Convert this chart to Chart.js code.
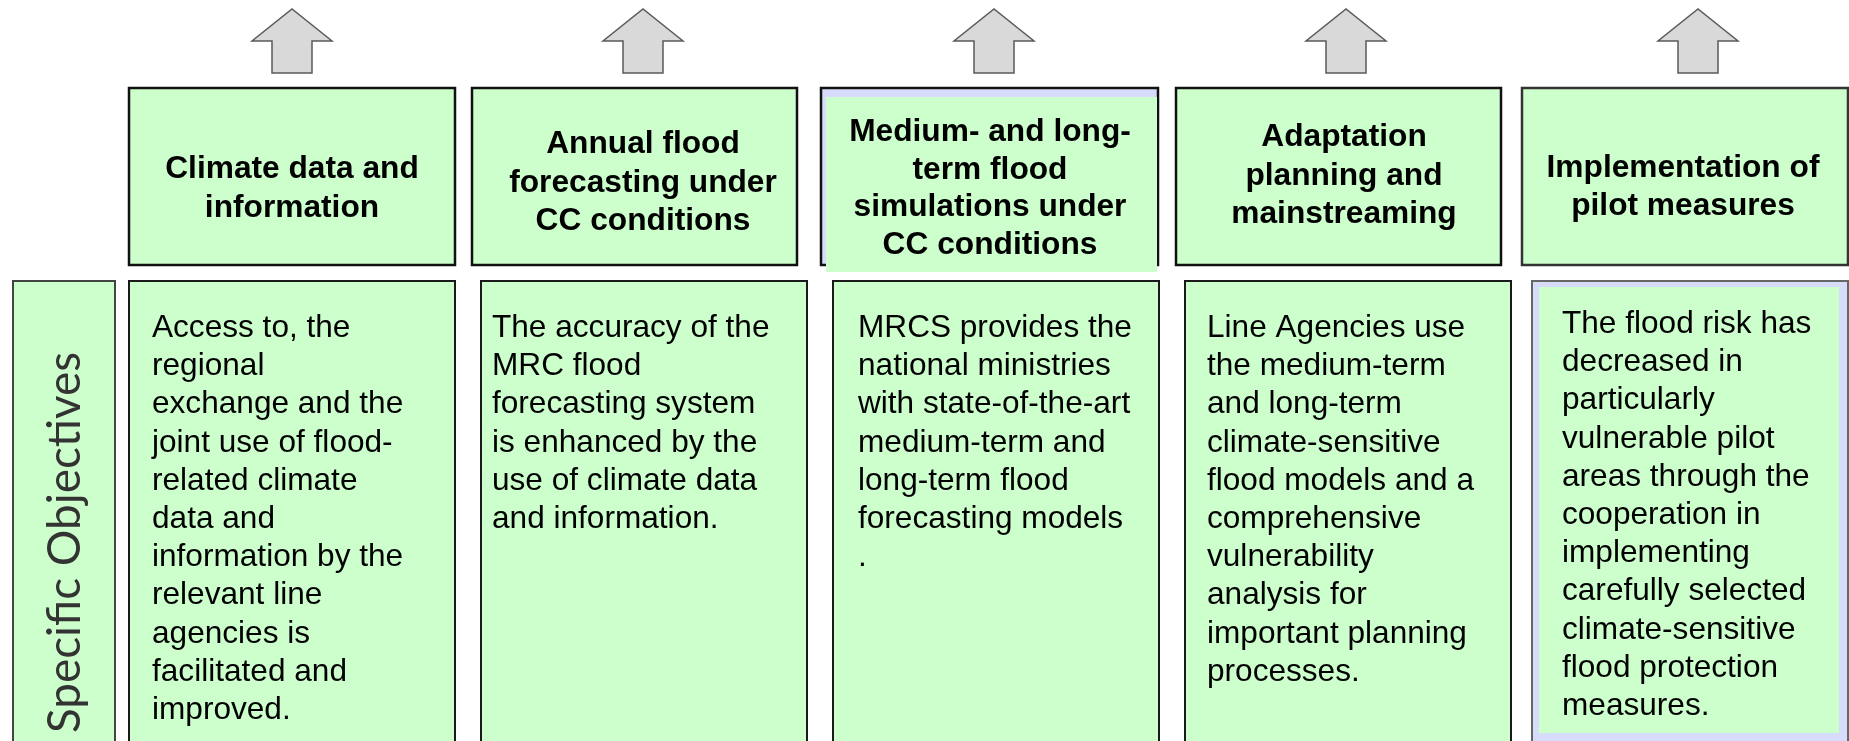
<!DOCTYPE html>
<html><head><meta charset="utf-8">
<script src="https://cdn.jsdelivr.net/npm/chart.js@4.4.0/dist/chart.umd.min.js"></script>
<style>html,body{margin:0;padding:0;background:#fff;overflow:hidden}canvas{display:block}</style>
</head><body>
<canvas id="c" width="1849" height="741"></canvas>
<script>
// ---- content ----
const headers = [
  ["Climate data and", "information"],
  ["Annual flood", "forecasting under", "CC conditions"],
  ["Medium- and long-", "term flood", "simulations under", "CC conditions"],
  ["Adaptation", "planning and", "mainstreaming"],
  ["Implementation of", "pilot measures"]
];
const objectives = [
  ["Access to, the", "regional", "exchange and the", "joint use of flood-", "related climate", "data and", "information by the", "relevant line", "agencies is", "facilitated and", "improved."],
  ["The accuracy of the", "MRC flood", "forecasting system", "is enhanced by the", "use of climate data", "and information."],
  ["MRCS provides the", "national ministries", "with state-of-the-art", "medium-term and", "long-term flood", "forecasting models", "."],
  ["Line Agencies use", "the medium-term", "and long-term", "climate-sensitive", "flood models and a", "comprehensive", "vulnerability", "analysis for", "important planning", "processes."],
  ["The flood risk has", "decreased in", "particularly", "vulnerable pilot", "areas through the", "cooperation in", "implementing", "carefully selected", "climate-sensitive", "flood protection", "measures."]
];
const sideLabel = "Specific Objectives";

// ---- layout (diagram units) ----
const topLeft  = [129, 472, 821, 1176, 1522];
const topRight = [455, 797, 1158, 1501, 1848];
const topY = [88, 265];
const botLeft  = [129, 481, 833, 1185, 1532];
const botRight = [455, 807, 1159, 1511, 1848];
const botY = [281, 770];
const sideBox = [13, 115];
const arrowX = [292, 643, 994, 1346, 1698];
const headerCX = [292, 643, 990, 1344, 1683];
const headerBase = [[178, 217], [153, 191.5, 230], [141, 178.5, 216, 254], [146, 184.5, 223], [177, 215]];
const bodyLeft = [152, 492, 858, 1207, 1562];
const bodyBase = [337, 337, 337, 337, 333];
const bodyStep = 38.2;

const GREEN = '#ccffcc', LAV = '#d6dcfa';

function rectPts(x0, y0, x1, y1) {
  return [{x:x0,y:y0},{x:x1,y:y0},{x:x1,y:y1},{x:x0,y:y1},{x:x0,y:y0},{x:x1,y:y0}];
}
function arrowPts(cx) {
  const tip = 9, wing = 41, bot = 73, hw = 40, sw = 20;
  return [{x:cx,y:tip},{x:cx+hw,y:wing},{x:cx+sw,y:wing},{x:cx+sw,y:bot},{x:cx-sw,y:bot},{x:cx-sw,y:wing},{x:cx-hw,y:wing},{x:cx,y:tip},{x:cx+hw,y:wing}];
}
function shape(pts, fillC, lineC, lw) {
  return {data: pts, showLine: true, fill: 'shape', backgroundColor: fillC,
    borderColor: lineC || 'rgba(0,0,0,0)', borderWidth: lw || 0, pointRadius: 0,
    tension: 0, borderJoinStyle: 'miter', borderCapStyle: 'butt'};
}

const ds = [];
ds.push(shape(rectPts(sideBox[0], botY[0], sideBox[1], botY[1]), GREEN, '#444', 2));
for (let i = 0; i < 4; i++) ds.push(shape(rectPts(botLeft[i], botY[0], botRight[i], botY[1]), GREEN, '#1a1a1a', 2));
ds.push(shape(rectPts(botLeft[4], botY[0], botRight[4], botY[1]), LAV, '#666', 2));
ds.push(shape(rectPts(botLeft[4] + 7, botY[0] + 6, botRight[4] - 9, 733), GREEN));
for (let i = 0; i < 5; i++) {
  if (i === 2) {
    ds.push(shape(rectPts(topLeft[i], topY[0], topRight[i], topY[1]), LAV, '#111', 2.5));
    ds.push(shape(rectPts(topLeft[i] + 5, topY[0] + 9, topRight[i] - 1, topY[1] + 7), GREEN));
  } else {
    ds.push(shape(rectPts(topLeft[i], topY[0], topRight[i], topY[1]), GREEN, i === 4 ? '#333' : '#111', 2.5));
  }
}
for (let i = 0; i < 5; i++) ds.push(shape(arrowPts(arrowX[i]), '#d9d9d9', '#5a5a5a', 1.5));
ds.forEach((d, i) => d.order = ds.length - i);

const textPlugin = {
  id: 'texts',
  afterDatasetsDraw(chart) {
    const ctx = chart.ctx, xs = chart.scales.x, ys = chart.scales.y;
    ctx.save();
    ctx.fillStyle = '#000';
    ctx.textBaseline = 'alphabetic';
    ctx.font = 'bold 31.7px "Liberation Sans", Arial, sans-serif';
    ctx.textAlign = 'center';
    headers.forEach((lines, i) => {
      lines.forEach((t, j) => ctx.fillText(t, xs.getPixelForValue(headerCX[i]), ys.getPixelForValue(headerBase[i][j])));
    });
    ctx.font = '31.6px "Liberation Sans", Arial, sans-serif';
    ctx.textAlign = 'left';
    objectives.forEach((lines, i) => {
      lines.forEach((t, j) => ctx.fillText(t, xs.getPixelForValue(bodyLeft[i]), ys.getPixelForValue(bodyBase[i] + j * bodyStep)));
    });
    // vertical side label
    const targetLen = 381;
    ctx.font = '40px Lato, sans-serif';
    const w = ctx.measureText(sideLabel).width;
    const fs = 40 * targetLen / w;
    ctx.font = fs.toFixed(2) + 'px Lato, sans-serif';
    ctx.fillStyle = '#333';
    ctx.translate(xs.getPixelForValue(80), ys.getPixelForValue(733));
    ctx.rotate(-Math.PI / 2);
    ctx.fillText(sideLabel, 0, 0);
    ctx.restore();
  }
};

new Chart(document.getElementById('c'), {
  type: 'scatter',
  data: {datasets: ds},
  options: {
    responsive: false, animation: false, events: [],
    layout: {padding: 0},
    plugins: {legend: {display: false}, tooltip: {enabled: false}},
    scales: {
      x: {type: 'linear', min: 0, max: 1849, display: false},
      y: {type: 'linear', min: 0, max: 741, reverse: true, display: false}
    }
  },
  plugins: [textPlugin]
});
</script>
</body></html>
